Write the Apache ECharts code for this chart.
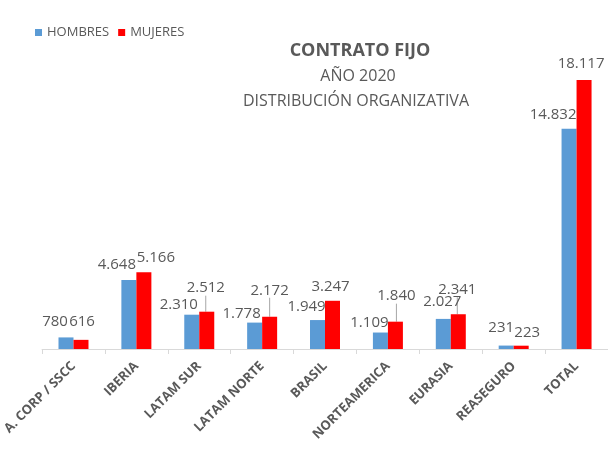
<!DOCTYPE html>
<html>
<head>
<meta charset="utf-8">
<script src="https://cdn.jsdelivr.net/npm/echarts@6/dist/echarts.min.js"></script>
<style>
  html, body { margin: 0; padding: 0; background: #fff; }
  #chart { width: 608px; height: 459px; }
</style>
</head>
<body>
<div id="chart"></div>
<script>
const categories = ['A. CORP / SSCC', 'IBERIA', 'LATAM SUR', 'LATAM NORTE', 'BRASIL', 'NORTEAMERICA', 'EURASIA', 'REASEGURO', 'TOTAL']
const hombres = [780, 4648, 2310, 1778, 1949, 1109, 2027, 231, 14832]
const mujeres = [616, 5166, 2512, 2172, 3247, 1840, 2341, 223, 18117]

// label nudges (px) to mimic the excel placement
const hombresLabelShift = [[-11, -3], [-12, -3], [-13, 3], [-13, 4], [-11, -1], [-11, 3], [-1, -5], [-5, -5], [-16, -2]]
const mujeresLabelShift = [[1, -6], [12, -2], [-1, -11], [0, -14], [-2, -2], [1, -13], [-1, -12], [6, 0], [-3, -4]]
const mujeresLeader = [false, false, true, true, false, true, true, false, false]

const labelColor = '#595959'
const fontFamily = '"Open Sans", sans-serif'

function fmt(v) {
  return v.toLocaleString('de-DE')
}

const chart = echarts.init(document.getElementById('chart'))

const labelStyle = {
  show: true,
  position: 'top',
  distance: 5,
  fontSize: 15,
  fontFamily,
  color: labelColor,
  formatter: (p) => fmt(p.value),
}

chart.setOption({
  animation: false,
  backgroundColor: '#fff',
  legend: {
    left: 30,
    top: 21,
    icon: 'rect',
    itemWidth: 7,
    itemHeight: 7,
    itemGap: 9,
    textStyle: { fontSize: 13, fontFamily, color: labelColor },
    data: ['HOMBRES', 'MUJERES'],
  },
  graphic: [
    {
      type: 'text',
      x: 360, y: 51,
      style: { text: 'CONTRATO FIJO', textAlign: 'center', textVerticalAlign: 'middle', font: 'bold 18px "Open Sans"', fill: labelColor },
    },
    {
      type: 'text',
      x: 358, y: 76,
      style: { text: 'AÑO 2020', textAlign: 'center', textVerticalAlign: 'middle', font: '16px "Open Sans"', fill: labelColor },
    },
    {
      type: 'text',
      x: 356, y: 101,
      style: { text: 'DISTRIBUCIÓN ORGANIZATIVA', textAlign: 'center', textVerticalAlign: 'middle', font: '16px "Open Sans"', fill: labelColor },
    },
  ],
  grid: {
    left: 42,
    right: 0,
    top: 52,
    bottom: 110,
  },
  xAxis: {
    type: 'category',
    data: categories,
    axisLine: { lineStyle: { color: '#d9d9d9' } },
    axisTick: { show: true, length: 5, lineStyle: { color: '#d9d9d9' } },
    axisLabel: {
      rotate: 45,
      margin: 15,
      interval: 0,
      fontSize: 13,
      fontWeight: 'bold',
      fontFamily,
      color: labelColor,
    },
  },
  yAxis: {
    type: 'value',
    min: 0,
    max: 20000,
    show: false,
    splitLine: { show: false },
  },
  series: [
    {
      name: 'HOMBRES',
      type: 'bar',
      data: hombres,
      barWidth: 15,
      barGap: '0%',
      itemStyle: { color: '#5B9BD5' },
      label: labelStyle,
      labelLayout: (p) => ({ dx: hombresLabelShift[p.dataIndex][0], dy: hombresLabelShift[p.dataIndex][1] }),
    },
    {
      name: 'MUJERES',
      type: 'bar',
      data: mujeres.map((v, i) => ({ value: v, labelLine: { show: mujeresLeader[i] } })),
      barWidth: 15,
      barGap: '0%',
      itemStyle: { color: '#FF0000' },
      label: labelStyle,
      labelLine: { show: false, lineStyle: { color: '#a6a6a6', width: 1 } },
      labelLayout: (p) => ({ dx: mujeresLabelShift[p.dataIndex][0], dy: mujeresLabelShift[p.dataIndex][1] }),
    },
  ],
})
</script>
</body>
</html>
